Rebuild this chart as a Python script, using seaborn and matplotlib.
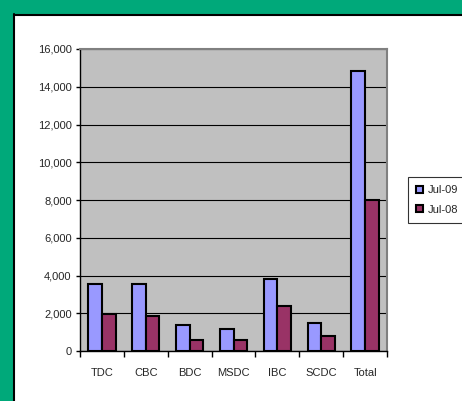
import pandas as pd
import matplotlib
matplotlib.use('Agg')
import matplotlib.pyplot as plt
import seaborn as sns
from matplotlib.patches import Rectangle, Patch
from matplotlib.ticker import StrMethodFormatter, FixedLocator

categories = ['TDC', 'CBC', 'BDC', 'MSDC', 'IBC', 'SCDC', 'Total']
jul09 = [3550, 3550, 1400, 1150, 3800, 1500, 14850]
jul08 = [1950, 1850, 600, 600, 2400, 800, 8000]
series = ['Jul-09', 'Jul-08']
colors = ['#9999FF', '#993366']

df = pd.DataFrame({
    'category': categories * 2,
    'value': jul09 + jul08,
    'series': [series[0]] * len(categories) + [series[1]] * len(categories),
})

sns.set_style('white')
plt.rcParams['font.family'] = ['Liberation Sans', 'DejaVu Sans']

W, H = 462, 401
fig = plt.figure(figsize=(W / 100, H / 100), dpi=100)
fig.patch.set_facecolor('white')

# green frame (top and left) with black inner edge
green = '#00A97A'
fig.patches.append(Rectangle((0, 1 - 14 / H), 1, 14 / H, transform=fig.transFigure,
                             facecolor=green, edgecolor='none', zorder=0))
fig.patches.append(Rectangle((0, 0), 13 / W, 1, transform=fig.transFigure,
                             facecolor=green, edgecolor='none', zorder=0))
fig.add_artist(plt.Line2D([13.5 / W, 13.5 / W], [0, 1 - 14 / H], color='black', lw=1.5,
                          transform=fig.transFigure))
fig.add_artist(plt.Line2D([13.5 / W, 1], [1 - 14.5 / H, 1 - 14.5 / H], color='black', lw=1.5,
                          transform=fig.transFigure))

ax = fig.add_axes([80 / W, 50 / H, 307 / W, 302 / H])
sns.barplot(data=df, x='category', y='value', hue='series', order=categories,
            hue_order=series, palette=colors, width=0.62, edgecolor='black',
            linewidth=1.5, saturation=1, ax=ax, legend=False, zorder=3)

ax.set_facecolor('#C0C0C0')
ax.set_ylim(0, 16000)
ax.set_xlim(-0.5, len(categories) - 0.5)
ax.set_yticks(range(0, 16001, 2000))
ax.yaxis.set_major_formatter(StrMethodFormatter('{x:,.0f}'))
ax.yaxis.grid(True, color='black', lw=0.8, zorder=1)
ax.set_axisbelow(True)
ax.set_xlabel('')
ax.set_ylabel('')

for s in ['top', 'right']:
    ax.spines[s].set_color('#808080')
    ax.spines[s].set_linewidth(1.5)
for s in ['left', 'bottom']:
    ax.spines[s].set_color('black')
    ax.spines[s].set_linewidth(1)

ax.xaxis.set_minor_locator(FixedLocator([i - 0.5 for i in range(len(categories) + 1)]))
ax.tick_params(axis='x', which='major', length=0, pad=12, labelsize=8)
ax.tick_params(axis='x', which='minor', length=4, width=1, color='black', direction='out', bottom=True)
ax.tick_params(axis='y', which='major', length=3, width=1, color='black', direction='out',
               pad=3, labelsize=8, left=True)

# legend box runs past the right edge of the picture, as in the original
handles = [Patch(facecolor=c, edgecolor='black', lw=1.5) for c in colors]
leg = fig.legend(handles, series, loc='upper left',
                 bbox_to_anchor=(408 / W, 1 - 223 / H, 75 / W, 46 / H), mode='expand',
                 frameon=True, fancybox=False, fontsize=8, handlelength=0.6,
                 handleheight=0.6, handletextpad=0.45, borderpad=0.75, labelspacing=0.85,
                 borderaxespad=0)
leg.get_frame().set_edgecolor('black')
leg.get_frame().set_linewidth(0.8)

fig.savefig('out.png', dpi=100)
